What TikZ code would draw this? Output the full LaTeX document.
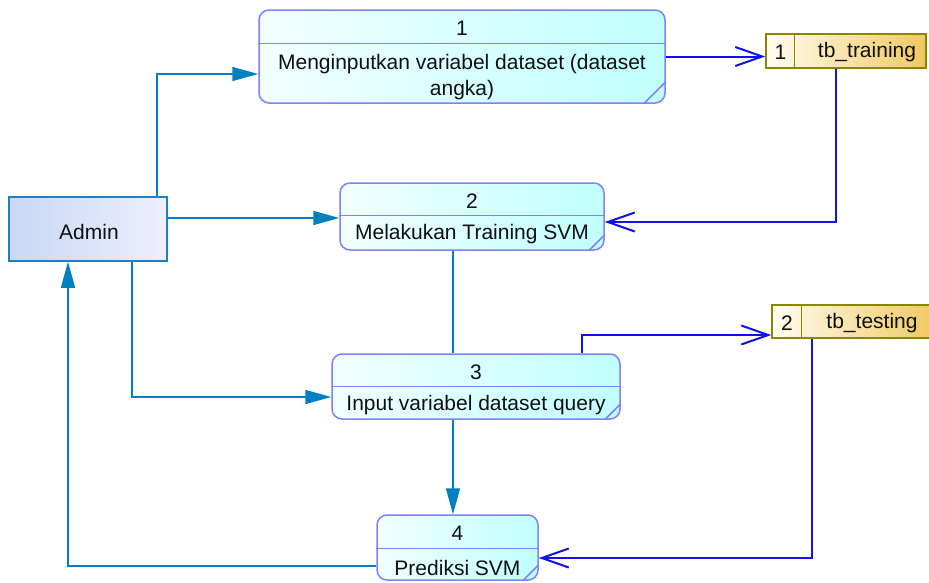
\documentclass[tikz,border=0pt]{standalone}
\usepackage{fontspec}
\setmainfont{Liberation Sans}
\usetikzlibrary{arrows.meta}

\begin{document}
\begin{tikzpicture}[x=1pt,y=-1pt,
  txt/.style={inner sep=0pt, outer sep=0pt, text=custcol_10_10_10, font=\fontsize{21pt}{26pt}\selectfont},
  proc/.style={draw=custcol_80_80_ff, line width=1.5pt, rounded corners=10pt, left color=custcol_f2_ff_ff, right color=custcol_c0_ff_ff},
  procline/.style={draw=custcol_80_80_ff, line width=1.5pt},
  extent/.style={draw=custcol_1e_80_c0, line width=1.5pt, left color=custcol_c8_d8_f4, right color=custcol_ee_ee_ff},
  store/.style={draw=custcol_88_88_00, line width=1.5pt, left color=custcol_ff_fd_f0, right color=custcol_f0_c8_60},
  storeline/.style={draw=custcol_88_88_00, line width=1.5pt},
  flow/.style={draw=custcol_00_80_c0, line width=1.5pt, -{Triangle[length=26pt,width=14pt]}},
  link/.style={draw=custcol_00_80_c0, line width=1.5pt},
  storeflow/.style={draw=custcol_10_10_f0, line width=2pt, -{Straight Barb[length=27pt,width=19pt,line width=2pt]}}]
\definecolor{custcol_10_10_10}{RGB}{16, 16, 16}
\definecolor{custcol_80_80_ff}{RGB}{128, 128, 255}
\definecolor{custcol_f2_ff_ff}{RGB}{242, 255, 255}
\definecolor{custcol_c0_ff_ff}{RGB}{192, 255, 255}
\definecolor{custcol_1e_80_c0}{RGB}{30, 128, 192}
\definecolor{custcol_c8_d8_f4}{RGB}{200, 216, 244}
\definecolor{custcol_ee_ee_ff}{RGB}{238, 238, 255}
\definecolor{custcol_88_88_00}{RGB}{136, 136, 0}
\definecolor{custcol_ff_fd_f0}{RGB}{255, 253, 240}
\definecolor{custcol_f0_c8_60}{RGB}{240, 200, 96}
\definecolor{custcol_00_80_c0}{RGB}{0, 128, 192}
\definecolor{custcol_10_10_f0}{RGB}{16, 16, 240}
\useasboundingbox (0,0) rectangle (929,582);
% external entity
\node[extent, minimum width=158pt, minimum height=64pt] (admin) at (88,229) {};
\node[txt] (adminlbl) at (89,231.5) {Admin};
% process 1
\node[proc, minimum width=406pt, minimum height=93pt] (p1) at (462,56.5) {};
\draw[procline] ([yshift=-34pt]p1.north west) -- ([yshift=-34pt]p1.north east);
\draw[procline] ([xshift=-22pt]p1.south east) -- ([yshift=22pt]p1.south east);
\node[txt] (p1num) at (462,28.5) {1};
\node[txt, align=center] (p1lbl) at (462,77) {Menginputkan variabel dataset (dataset\\angka)};
% process 2
\node[proc, minimum width=264pt, minimum height=67pt] (p2) at (472,216.5) {};
\draw[procline] ([yshift=-33pt]p2.north west) -- ([yshift=-33pt]p2.north east);
\draw[procline] ([xshift=-16pt]p2.south east) -- ([yshift=16pt]p2.south east);
\node[txt] (p2num) at (472,201.5) {2};
\node[txt] (p2lbl) at (472,234.5) {Melakukan Training SVM};
% process 3
\node[proc, minimum width=288pt, minimum height=65pt] (p3) at (476,386.5) {};
\draw[procline] ([yshift=-33pt]p3.north west) -- ([yshift=-33pt]p3.north east);
\draw[procline] ([xshift=-16pt]p3.south east) -- ([yshift=16pt]p3.south east);
\node[txt] (p3num) at (476,372.5) {3};
\node[txt] (p3lbl) at (476,405.5) {Input variabel dataset query};
% process 4
\node[proc, minimum width=161pt, minimum height=65pt] (p4) at (457.5,547.5) {};
\draw[procline] ([yshift=-34pt]p4.north west) -- ([yshift=-34pt]p4.north east);
\draw[procline] ([xshift=-16pt]p4.south east) -- ([yshift=16pt]p4.south east);
\node[txt] (p4num) at (457.5,533.5) {4};
\node[txt] (p4lbl) at (457.5,567.5) {Prediksi SVM};
% data stores
\node[store, minimum width=160pt, minimum height=34pt] (ds1) at (846,51) {};
\draw[storeline] ([xshift=29pt]ds1.north west) -- ([xshift=29pt]ds1.south west);
\node[txt] (ds1num) at (780.5,52.5) {1};
\node[txt] (ds1lbl) at (867,52.5) {tb\_training};
\node[store, minimum width=164pt, minimum height=33pt] (ds2) at (854,321.5) {};
\draw[storeline] ([xshift=30pt]ds2.north west) -- ([xshift=30pt]ds2.south west);
\node[txt] (ds2num) at (787,323.5) {2};
\node[txt] (ds2lbl) at (872,323.5) {tb\_testing};
% flows
\coordinate (a2) at ([yshift=11pt]admin.east);
\coordinate (c23) at ([xshift=-19pt]p2.south);
\coordinate (c34) at ([xshift=-23pt]p3.south);
\draw[flow] ([xshift=69pt]admin.north) |- ([yshift=-17.5pt]p1.west);
\draw[flow] (a2) -- (a2 -| p2.west);
\draw[flow] ([xshift=44pt]admin.south) |- ([yshift=-10.5pt]p3.west);
\draw[flow] ([yshift=-18.5pt]p4.west) -| ([xshift=-20pt]admin.south);
\draw[link] (c23) -- (c23 |- p3.north);
\draw[flow] (c34) -- (c34 |- p4.north);
\draw[storeflow] (p1.east) -- (p1.east -| ds1.west);
\draw[storeflow] ([xshift=-10pt]ds1.south) |- ([yshift=-5.5pt]p2.east);
\draw[storeflow] ([xshift=106pt]p3.north) |- ([yshift=-13.5pt]ds2.west);
\draw[storeflow] ([xshift=41pt]ds2.south west) |- ([yshift=-10.5pt]p4.east);
\end{tikzpicture}
\end{document}
